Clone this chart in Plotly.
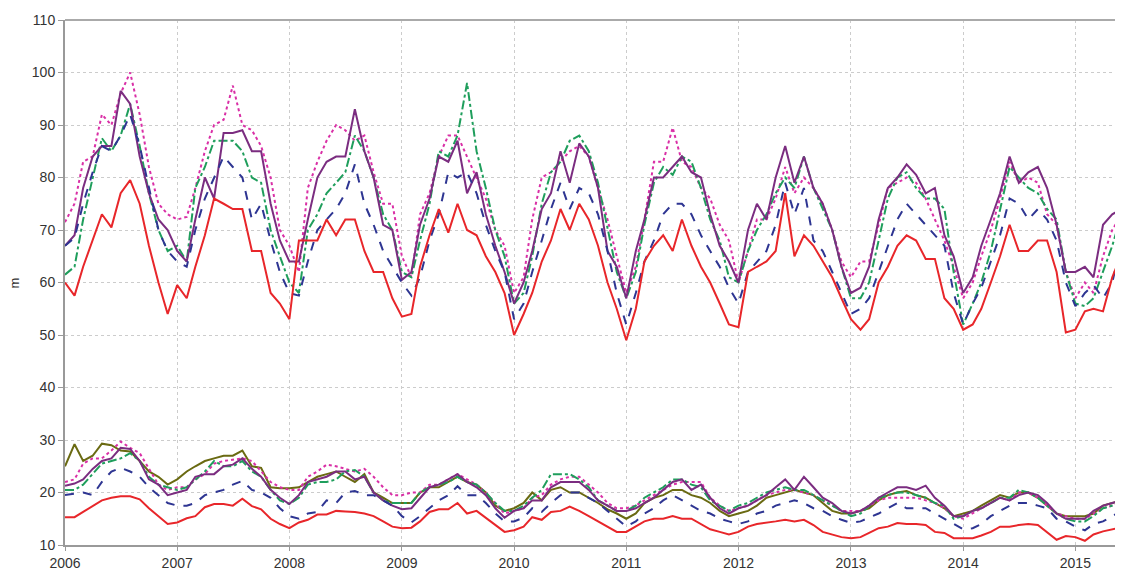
import pandas as pd
import plotly.graph_objects as go

dates = pd.date_range("2006-01-01", periods=115, freq="MS")

up_red = [60,57.5,63,68,73,70.5,77,79.5,75,67,60,54,
 59.5,57,63,69,76,75,74,74,66,66,58,56,
 53,68,68,68,72,69,72,72,66,62,62,57,
 53.5,54,63,69,74,69.5,75,70,69,65,62,58,
 50,54,58,64,68,74,70,75,72,67,60,55,
 49,55,64,67,69,66,72,67,63,60,56,52,
 51.5,62,63,64,66,77,65,69,67,64,61,57,
 53,51,53,60,63,67,69,68,64.5,64.5,57,55,
 51,52,55,60,65,71,66,66,68,68,62,50.5,
 51,54.5,55,54.5,61,65.5,67]
up_navy = [67,68.5,75,81,86,85,88,92,86,78,70,66,
 64,63,70,76,80,84,82,80,72,75,68,62,
 58,57.5,64,70,72,74,77,82.5,75,71,66,63,
 60,57.5,61,68,73,81,80,81,77,71,66,62,
 53,56,62,68,74,79,74,78,77,73,66,58,
 52,58,64,68,73,75,75,73,69,66,63,59,
 56,62,64,66,71,79,73,78,68,66,62,58,
 54,55,57,62,67,72,75,73,71,69,67,58,
 52,56,59,64,69,76,75,72,74,72,68,60,
 55.5,58,59.5,57,60,68,74]
up_green = [61.5,63,72,80,87.5,85,88,94,86,77,70,66,
 67,64,78,82,87,87,87,85,80,79,70,65,
 60,58,70,73,77,79,81,88,85,80,73,70,
 62,61,68,75,85,84,88,98,85,78,70,65,
 56,58,65,75,81,83,87,88,85,79,70,62,
 57,62,71,79,82,80.5,84,83,78,72,68,61,
 60,66,70,73,77,80,78,84,78,74,70,63,
 57,57,60,68,76,80,81,78,76,76,74,62,
 52,56,60,66,74,82,80,78,77,74,72,62,
 56,55.5,57,62,67,73,75.5]
up_purple = [67,69,78,84,86,86,96.5,94,84,77,72,70,
 66,64,72,80,76,88.5,88.5,89,85,85,75,68,
 64,64,72,80,83,84,84,93,85,80,71,70,
 60.5,62,71,76,84,83,87,77,81,73,67,62,
 56,60,66,74,77,85,79,86.5,84,78,66,63,
 57,66,72,80,80,82,84,81,80,73,67,64,
 60,70,75,72,80,86,79,84,78,75,70,63,
 58,59,63,72,78,80,82.5,80.5,77,78,69,65,
 58,61,67,72,77,84,79,81,82,78,71,62,
 62,63,61,71,73,74,81]
up_magenta = [71.5,75,83,84,92,90,96,100,92,82,75,73,
 72,72.5,78,85,90,91,97.5,90,89,86,80,70,
 67,62,78,83,87,90,89,87,88,81,75,75,
 65,61,73,77,84,88,88,84,80,76,70,67,
 58,61,72,80,81,83,85,86,84,78,72,65,
 58,63,72,83,83,89.5,83,82,78,76,71,68,
 60,66,72,72,76,82,77,80,78,75,70,64,
 61,64,64,71,78,79,80,79,76,72,68,63,
 57,60,65,70,76,83,79,80,79,73,71,62,
 57,60,58,65,70,73,76]

lo_red = [15.3,15.3,16.3,17.5,18.5,19,19.3,19.3,18.7,17,15.5,14,
 14.3,15.1,15.5,17.2,17.8,17.8,17.5,18.8,17.4,16.8,15,14,
 13.2,14.3,14.8,15.8,15.8,16.5,16.4,16.3,16,15.5,14.5,13.5,
 13.2,13.3,14.5,16.3,16.8,16.8,18,16,16.5,15.2,13.8,12.5,
 12.8,13.5,15.3,14.8,16.3,16.5,17.3,16.5,15.5,14.5,13.5,12.5,
 12.5,13.5,14.5,15,15,15.5,15,15,14,13,12.5,12,
 12.5,13.5,14,14.2,14.5,14.8,14.5,14.8,13.8,12.5,12,11.5,
 11.3,11.5,12.3,13.2,13.5,14.2,14,14,13.8,12.5,12.3,11.3,
 11.3,11.3,11.8,12.5,13.5,13.5,13.8,14,13.8,12.5,11,11.7,
 11.5,10.8,12,12.6,13,13.4,13.4]
lo_navy = [19.5,19.8,20,19.5,22,24,24.7,24,23,21,19.5,18,
 17.5,17.5,18,19.5,20,20.5,21.5,22.2,20.5,20,19,17,
 15.5,15,16,16.3,18.5,18,20,20.3,19.5,19.5,18.5,17.5,
 15.5,14.3,15.5,17,18.5,19.5,21.2,19.5,19.5,18,16,14.5,
 14.5,15.2,17,16.3,18,19.5,20,20,19,18,16.5,15,
 13.5,14.5,16,17,18.5,19.5,18.5,17.5,16.5,16,15,14.5,
 14,14.5,16,16.5,17.5,18,18.5,18,17,16.5,15.5,14.8,
 14.2,14.5,15.2,16,17,18,17,17,17,16,15,14,
 13,13.2,14,15.5,16.5,17.5,18,18,17.5,17,15,14.5,
 13.5,12.8,14,14.5,15.5,16.5,17.5]
lo_olive = [25,29.2,26,27,29.3,29,28,27.8,26,24,23,21.5,
 22.5,24,25,26,26.5,27,27,28,25,24.7,21,20.8,
 20.8,21,22,23,23.5,24,23,22,23.5,20,19,18,
 18,18,20,21,21,22,23,22,21.5,20,17.5,16.5,
 17,18,20,18.5,20.5,21,20,20,19,18,16.8,16,
 15,16,18,19,19.5,20.5,20.5,19.5,19,18,16.5,15.5,
 16,16.5,17.5,19,19.5,20,20.5,20,19.5,18,16.5,16,
 16,16.5,17,18.5,19.5,20,20.3,19.5,19,18,17,15.5,
 16,16.5,17.5,18.5,19.5,19,20,20,19,17.5,16,15.5,
 15.5,15.5,16,17.5,18,18.5,19.5]
lo_purple = [21.3,21.7,22.5,24.5,26,26.5,28.5,28.3,26,22.5,21.5,19.5,
 20,20.5,23,23.5,23.5,25,25.3,26.5,24.5,23,20.5,19,
 17.8,19.5,22,22.5,23,24,24,22.5,23,20,18.5,17.5,
 16.8,17,19,21,21.5,22.5,23.5,22,21,19.5,17,15.2,
 16.5,17,18.5,18.5,21,22,22,22,20.5,18.5,17.5,16.5,
 16.5,17,18,19,20.5,22,22.5,20.5,21.5,19,17,16,
 17,17.5,18.5,19.5,21,22.5,20.5,23,21,19,18,16.5,
 16,16.5,17.5,19,20,21,21,20.5,21.3,19,17.5,15.5,
 15.5,16.5,17,18,19,18.5,19.5,20,19.5,18,16,15,
 15,15,16.5,17.5,18,18.5,19.5]
lo_green = [20.5,20.5,21.5,23.5,25.5,26,26.5,27.5,26,23,21.5,21,
 20.5,21,22.5,24,26,25,25,26,24,23,20.5,18.5,
 17.8,19,21.5,22,22,22.5,24,24.3,23,20,18.5,18,
 18,18,20,21,21.5,22,23,22,21.5,20,18,16.5,
 16.5,17.5,19,20.5,23.5,23.5,23.5,22.5,21,18.5,17.5,16.5,
 16.5,17.5,19,20,21,22.5,22.5,21.5,21,18.5,17.5,16.5,
 17.5,18,19,20,20.5,21,20.5,20.5,19.5,18.5,17.5,16.5,
 15.5,16,17.5,19,19.5,20,20,19.5,19,18,17.5,15,
 15.5,16.5,17,18,19,19,20.5,20,19,17.5,16,15,
 14.5,14.5,15.5,17,17.5,18,19]
lo_magenta = [22,22.5,25.5,26.5,26.5,28,29.7,28.5,27.5,24.5,21.5,20.5,
 21,21,22.5,23.5,25.5,26,26.3,26.5,26,24,22,21,
 20.5,20.5,23,24,25.3,25,24.5,24,24.5,23,21,19.5,
 19.5,20,20,21.5,21.5,22.5,23.5,22.5,21.5,20,18,16,
 16.5,17,19,19.5,21.5,22.5,23,23,21.5,20,18,17,
 17,17.5,18.5,19.5,20.5,21.5,22,22,22,19,17.5,16.5,
 17,17.5,18.5,19.5,20,20.5,20.5,20,19.5,18.5,17.5,16.5,
 16.5,16.5,17.5,18.5,19,19,19,19,18.5,18,17,15.5,
 15,16,17,18,19,18.5,20,20,19,17.5,16,15.5,
 15,15,16,17,17.5,18,19]

RED, NAVY, GREEN, PURPLE, MAG, OLIVE = "#e8262a", "#2e3592", "#1f9e5c", "#7b2d80", "#d92fa6", "#6a6a12"

series = [
    (up_magenta, MAG, "dot"), (up_green, GREEN, "dashdot"), (up_purple, PURPLE, "solid"),
    (up_navy, NAVY, "dash"), (up_red, RED, "solid"),
    (lo_olive, OLIVE, "solid"), (lo_magenta, MAG, "dot"), (lo_green, GREEN, "dashdot"),
    (lo_purple, PURPLE, "solid"), (lo_navy, NAVY, "dash"), (lo_red, RED, "solid"),
]

fig = go.Figure()
for vals, col, dash in series:
    fig.add_trace(go.Scatter(x=dates, y=vals, mode="lines",
                             line=dict(color=col, width=2, dash=dash), showlegend=False))

fig.update_layout(
    width=1123, height=569, margin=dict(l=57, r=0, t=12, b=32),
    paper_bgcolor="white", plot_bgcolor="white",
    font=dict(family="Liberation Sans, Arial", size=14, color="#333"),
)
fig.update_xaxes(range=["2006-01-01", "2015-07-01"], dtick="M12", tickformat="%Y",
                 showgrid=True, gridcolor="#cccccc", griddash="dot", gridwidth=1,
                 showline=True, linecolor="#999", linewidth=2, mirror=False,
                 ticks="outside", ticklen=4, tickcolor="#999", automargin=False)
fig.update_yaxes(range=[10, 110], dtick=10,
                 showgrid=True, gridcolor="#cccccc", griddash="dot", gridwidth=1,
                 showline=True, linecolor="#999", linewidth=2, zeroline=False,
                 ticks="outside", ticklen=5, tickcolor="#999", automargin=False)
fig.add_shape(type="line", xref="paper", yref="paper", x0=0, x1=1, y0=1, y1=1,
              line=dict(color="#aaa", width=2))
fig.add_annotation(text="m", xref="paper", yref="paper", x=-0.047, y=0.5,
                   xanchor="center", yanchor="middle", textangle=-90,
                   showarrow=False, font=dict(size=13, color="#333"))
fig.write_html("out.html")
